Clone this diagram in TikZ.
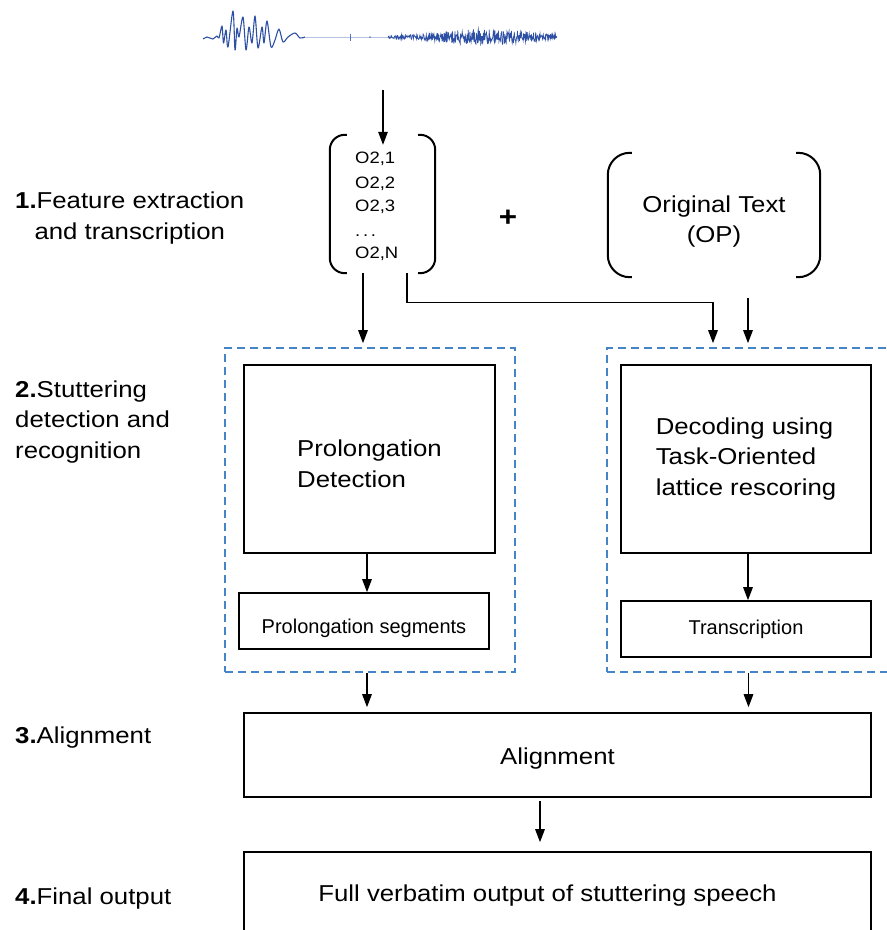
\documentclass[tikz,border=0pt]{standalone}
\usepackage{fontspec}
\setmainfont{Liberation Sans}[FakeStretch=1.12]
\newfontfamily\plainsans{Liberation Sans}
\usetikzlibrary{arrows.meta,calc}
\definecolor{grpblue}{RGB}{70,132,200}
\definecolor{wavecol}{RGB}{45,80,165}
\newcommand\bigtxt{\fontsize{23}{30.5}\selectfont}
\newcommand\smalltxt{\plainsans\fontsize{20}{24}\selectfont}
\newcommand\otxt{\fontsize{16.5}{24}\selectfont}
% lower a line of text while keeping its box size
\newcommand\dropby[2]{\raisebox{-#1}[\height][\depth]{#2}}
\begin{document}
\begin{tikzpicture}[x=1pt,y=-1pt,
  blk/.style={draw, line width=1.6pt, inner sep=0pt, align=center},
  grp/.style={draw=grpblue, line width=1.6pt, dash pattern=on 8pt off 5pt, inner sep=0pt},
  arr/.style={-{Triangle[length=13pt,width=9.5pt]}, line width=1.4pt},
  brk/.style={line width=2pt, rounded corners=#1},
  lab/.style={inner sep=0pt, font=\bigtxt, anchor=base west},
  otext/.style={inner sep=0pt, font=\otxt, anchor=base west}]
\useasboundingbox (0,0) rectangle (887,930);

% speech waveform: voiced burst, silence, then a fricative-like noise band
\draw[wavecol, line width=1.1pt, line join=round] plot[smooth, tension=0.5] coordinates {
 (203,39) (207,37) (210,38) (213,39) (217,36) (219,38) (222,26) (223.5,43) (226,30)
 (228,47) (233,11) (235,50) (237,28) (239,37) (243,17) (246,50) (249,27) (252,43)
 (255,16) (258,48) (262,27) (264,43) (267,21) (271,47) (275,40) (279,29) (283,42)
 (288,37) (295,33) (300,38) (305,37)};
\draw[wavecol!35, line width=0.8pt] (305,37) -- (390,37);
\draw[wavecol!80, line width=1pt] (350,33.5) -- (350,40.5);
\fill[wavecol!70] (370,37) circle (1pt);
\pgfmathsetseed{7}
\draw[wavecol, line width=0.7pt] plot[domain=388:557, samples=420]
  (\x, {37+(1.2+7*exp(-((\x-485)/55)^2))*rand});
\coordinate (wavept) at (383,90);

% stage labels
\node[lab, align=center] (lab1) at (15,239) {\textbf{1.}Feature extraction\\and transcription};
\node[lab, align=left] (lab2) at (15,458) {\textbf{2.}Stuttering\\detection and\\recognition};
\node[lab] (lab3) at (15,743) {\textbf{3.}Alignment};
\node[lab] (lab4) at (15,904) {\textbf{4.}Final output};

% feature vectors
\node[minimum width=105pt, minimum height=138pt, inner sep=0pt] (feat) at (382.5,204) {};
\draw[brk=15pt] ($(feat.north west)+(17,0)$) -- (feat.north west) -- (feat.south west) -- ($(feat.south west)+(17,0)$);
\draw[brk=15pt] ($(feat.north east)+(-17,0)$) -- (feat.north east) -- (feat.south east) -- ($(feat.south east)+(-17,0)$);
\node[otext] (o1) at (355,163) {O2,1};
\node[otext] (o2) at (355,188) {O2,2};
\node[otext] (o3) at (355,211) {O2,3};
\node[otext] (od) at (355,236) {.\,.\,.};
\node[otext] (on) at (355,258) {O2,N};

\node[font=\fontsize{28}{30}\selectfont\bfseries, inner sep=0pt] (plus) at (508,218) {+};

% original text
\node[minimum width=212pt, minimum height=124pt, inner sep=0pt, align=center,
      font=\fontsize{23}{30}\selectfont] (op) at (714,215) {\dropby{7pt}{Original Text}\\\dropby{7pt}{(OP)}};
\draw[brk=22pt] ($(op.north west)+(24,0)$) -- (op.north west) -- (op.south west) -- ($(op.south west)+(24,0)$);
\draw[brk=22pt] ($(op.north east)+(-24,0)$) -- (op.north east) -- (op.south east) -- ($(op.south east)+(-24,0)$);

% stage 2 groups
\node[grp, minimum width=290pt, minimum height=324pt] (grpL) at (370,510) {};
\node[grp, minimum width=283pt, minimum height=324pt] (grpR) at (748.5,510) {};

\node[blk, minimum width=251pt, minimum height=188pt, align=left, font=\bigtxt] (det) at (369.5,459) {\dropby{5pt}{Prolongation}\\\dropby{5pt}{Detection}};
\node[blk, minimum width=250pt, minimum height=56pt, font=\smalltxt] (seg) at (364,621) {\dropby{7pt}{Prolongation segments}};
\node[blk, minimum width=250pt, minimum height=188pt, align=left, font=\bigtxt] (dec) at (746,459) {Decoding using\\Task-Oriented\\lattice rescoring};
\node[blk, minimum width=250pt, minimum height=56pt, font=\smalltxt] (trans) at (746,629) {Transcription};

% stages 3 and 4
\node[blk, minimum width=627pt, minimum height=84pt, font=\bigtxt] (align) at (557.5,755) {\dropby{4pt}{Alignment}};
\node[blk, minimum width=627pt, minimum height=88pt, font=\bigtxt] (final) at (557.5,896) {\hspace*{-20pt}Full verbatim output of stuttering speech};

% connectors
\draw[arr] (wavept) -- ($(feat.north)+(0.5,10)$);
\draw[arr] ($(feat.south)+(-19.5,0)$) -- ($(feat.south |- grpL.north)+(-19.5,-4)$);
\draw[arr] ($(feat.south)+(24.5,0)$) -- ++(0,29) -| ($(grpR.north)+(-35.5,-4)$);
\coordinate (opin) at ($(op.south)+(34,21)$);
\draw[arr] (opin) -- (opin |- {$(grpR.north)+(0,-4)$});
\draw[arr] ($(det.south)+(-2.5,0)$) -- ($(det.south |- seg.north)+(-2.5,0)$);
\draw[arr] ($(dec.south)+(2,0)$) -- ($(dec.south |- trans.north)+(2,0)$);
\draw[arr] ($(grpL.south)+(-3,0)$) -- ($(grpL.south |- align.north)+(-3,-5)$);
\draw[arr] (grpR.south) -- ($(grpR.south |- align.north)+(0,-5)$);
\draw[arr] ($(align.south)+(-17.5,3)$) -- ($(final.north)+(-17.5,-9)$);
\end{tikzpicture}
\end{document}
